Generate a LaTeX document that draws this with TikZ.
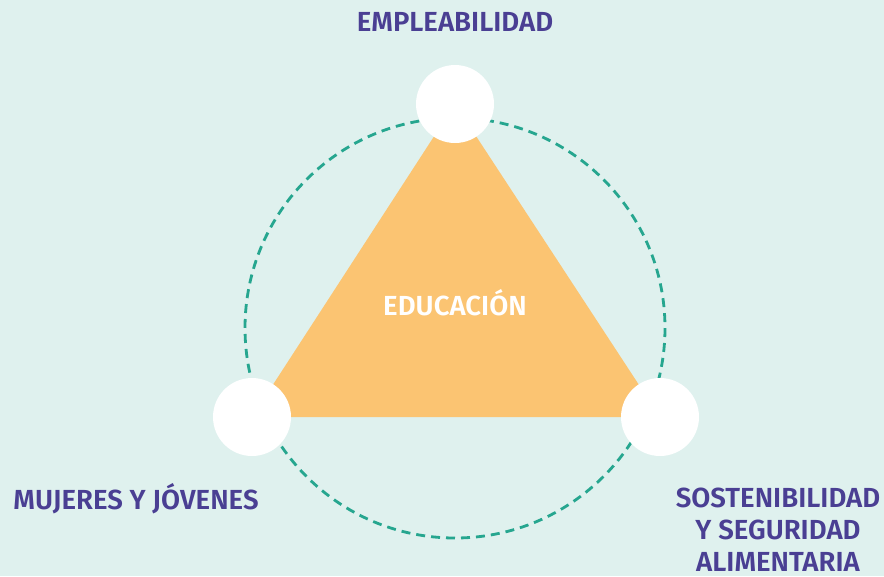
\documentclass[tikz,border=0pt]{standalone}
\usepackage{fontspec}
\setmainfont{Fira Sans}[BoldFont={Fira Sans SemiBold}]
\usepackage{tikz}

\definecolor{bgmint}{HTML}{DFF1EE}
\definecolor{triorange}{HTML}{FBC472}
\definecolor{labpurple}{HTML}{4A3F93}
\definecolor{ringteal}{HTML}{26A68F}

\begin{document}
\begin{tikzpicture}[x=0.02cm, y=-0.02cm,
    hub/.style={circle, fill=white, minimum size=1.56cm, inner sep=0pt},
    lab/.style={text=labpurple, font=\fontsize{15.7}{18.2}\selectfont\bfseries, align=center},
    ring/.style={draw=ringteal, line width=1.6pt, dash pattern=on 0.18cm off 0.12cm},
    ]
    \fill[bgmint] (0,0) rectangle (884,576);
    \useasboundingbox (0,0) rectangle (884,576);

    \draw[ring] (455,328) circle (210);

    \coordinate (emp) at (455,104);
    \coordinate (muj) at (252,417);
    \coordinate (sos) at (660,417);

    \fill[triorange] (emp) -- (muj) -- (sos) -- cycle;

    \node[hub] (Emp) at (emp) {};
    \node[hub] (Muj) at (muj) {};
    \node[hub] (Sos) at (sos) {};

    \node[lab, text=white] (edu) at (455,303) {EDUCACIÓN};
    \node[lab] (empl) at (455,22) {EMPLEABILIDAD};
    \node[lab] (mujl) at (136,499) {MUJERES Y JÓVENES};
    \node[lab] (sosl) at (778,530) {SOSTENIBILIDAD\\Y SEGURIDAD\\ALIMENTARIA};
\end{tikzpicture}
\end{document}
